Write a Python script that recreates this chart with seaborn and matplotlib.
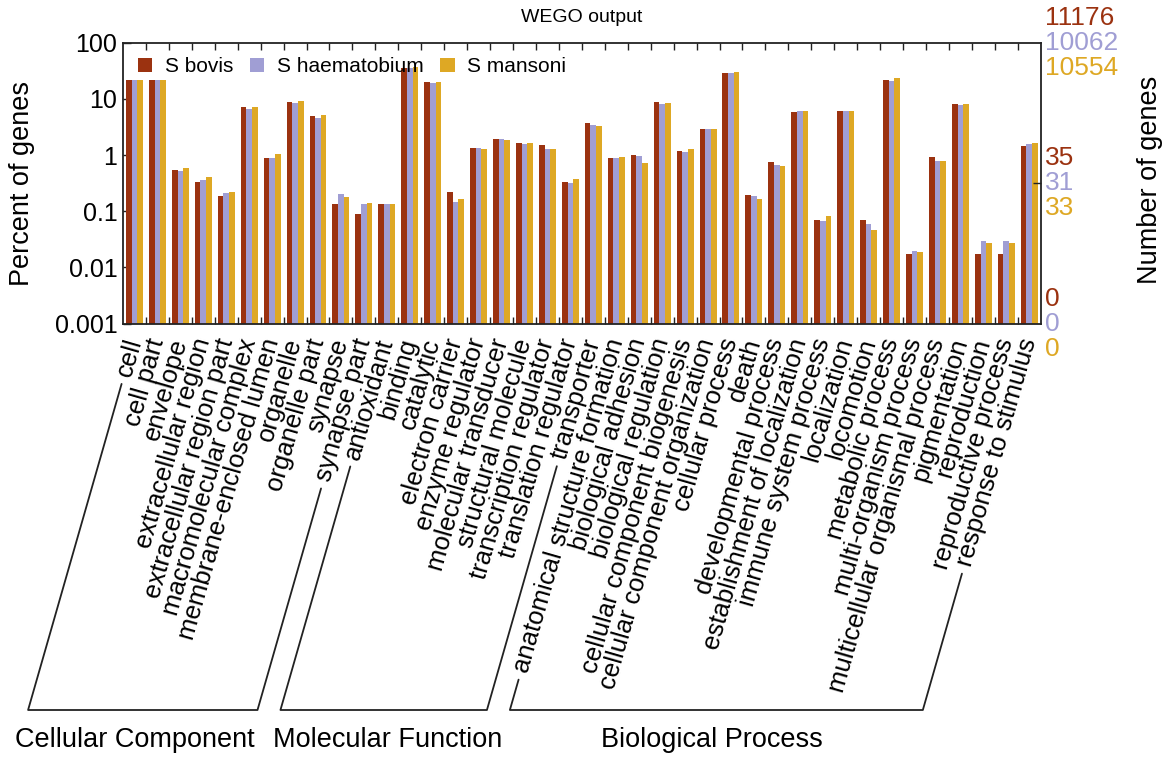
import numpy as np
import pandas as pd
import matplotlib
matplotlib.use("Agg")
import matplotlib.pyplot as plt
import seaborn as sns
from matplotlib import transforms
from matplotlib.lines import Line2D
from matplotlib.patches import Patch
from matplotlib.ticker import FixedLocator, FuncFormatter, NullLocator

sns.set_theme(style="white")
plt.rcParams["font.family"] = ["Liberation Sans", "DejaVu Sans"]
plt.rcParams.update({"text.color": "black", "axes.labelcolor": "black",
                     "xtick.color": "black", "ytick.color": "black"})

# GO level-2 terms, grouped by ontology
terms = [
    "cell", "cell part", "envelope", "extracellular region",
    "extracellular region part", "macromolecular complex",
    "membrane-enclosed lumen", "organelle", "organelle part", "synapse",
    "synapse part",
    "antioxidant", "binding", "catalytic", "electron carrier",
    "enzyme regulator", "molecular transducer", "structural molecule",
    "transcription regulator", "translation regulator", "transporter",
    "anatomical structure formation", "biological adhesion",
    "biological regulation", "cellular component biogenesis",
    "cellular component organization", "cellular process", "death",
    "developmental process", "establishment of localization",
    "immune system process", "localization", "locomotion",
    "metabolic process", "multi-organism process",
    "multicellular organismal process", "pigmentation", "reproduction",
    "reproductive process", "response to stimulus",
]
ontologies = ["Cellular Component", "Molecular Function", "Biological Process"]
ontology_sizes = [11, 10, 19]

species = ["S bovis", "S haematobium", "S mansoni"]
colors = ["#9B3210", "#A09ED4", "#DEA824"]
totals = [11176, 10062, 10554]

# percent of annotated genes per term
bovis = [21.6, 21.6, 0.54, 0.33, 0.186, 7.05, 0.905, 8.9, 4.9, 0.133,
         0.089, 0.135, 35.9, 19.7, 0.221, 1.33, 1.95, 1.67, 1.52, 0.329,
         3.66, 0.905, 1.0, 8.67, 1.19, 2.9, 29.2, 0.195, 0.74, 5.9,
         0.070, 6.14, 0.070, 21.6, 0.0175, 0.93, 8.2, 0.0175, 0.0175, 1.44]
haematobium = [21.3, 21.3, 0.52, 0.36, 0.215, 6.5, 0.905, 8.5, 4.6, 0.204,
               0.137, 0.137, 36.0, 19.2, 0.147, 1.33, 1.92, 1.60, 1.29, 0.325,
               3.5, 0.87, 0.98, 8.18, 1.14, 2.9, 28.5, 0.188, 0.66, 5.98,
               0.068, 6.14, 0.059, 21.2, 0.0195, 0.80, 7.9, 0.0292, 0.0292, 1.58]
mansoni = [21.5, 21.5, 0.60, 0.40, 0.224, 7.05, 1.05, 9.25, 5.1, 0.178,
           0.141, 0.133, 37.0, 20.0, 0.168, 1.26, 1.82, 1.64, 1.26, 0.38,
           3.23, 0.94, 0.72, 8.4, 1.31, 2.9, 29.5, 0.166, 0.64, 5.98,
           0.084, 6.14, 0.046, 23.2, 0.0185, 0.77, 8.0, 0.0278, 0.0278, 1.62]

df = pd.DataFrame({
    "term": terms * 3,
    "species": np.repeat(species, len(terms)),
    "percent": bovis + haematobium + mansoni,
})

W, H = 1173, 760
fig = plt.figure(figsize=(W / 100, H / 100), dpi=100)
ax = fig.add_axes([123 / W, 1 - 323.7 / H, 917.7 / W, 281 / H])
ax.set_yscale("log")

sns.barplot(data=df, x="term", y="percent", hue="species", hue_order=species,
            order=terms, palette=colors, width=0.74, gap=0, linewidth=0,
            saturation=1, errorbar=None, legend=False, ax=ax)

ax.set_ylim(1e-3, 100)
ax.set_xlim(-0.5, len(terms) - 0.5)
ax.set_xlabel("")
ax.set_ylabel("")

# y axis: decades
ax.yaxis.set_major_locator(FixedLocator([1e-3, 1e-2, 1e-1, 1, 10, 100]))
ax.yaxis.set_major_formatter(FuncFormatter(lambda v, p: f"{v:g}"))
ax.yaxis.set_minor_locator(NullLocator())
ax.tick_params(axis="y", which="major", direction="in", length=6, width=1,
               labelsize=18, pad=4, left=True, colors="#222222",
               labelcolor="black")

# x axis: rotated term names, boundary ticks top and bottom
angle = 74
ax.set_xticks(range(len(terms)))
ax.set_xticklabels(terms, rotation=angle, ha="right", va="center",
                   rotation_mode="anchor", fontsize=18.5)
shift = transforms.ScaledTranslation(5 / 100, 0, fig.dpi_scale_trans)
for lab in ax.get_xticklabels():
    lab.set_transform(lab.get_transform() + shift)
ax.set_xticks(np.arange(len(terms) - 1) + 0.5, minor=True)
ax.tick_params(axis="x", which="major", length=0, pad=11)
ax.tick_params(axis="x", which="minor", direction="in", length=5, width=1,
               top=True, bottom=True, colors="#222222")

for s in ax.spines.values():
    s.set_visible(True)
    s.set_color("#222222")
    s.set_linewidth(1.3)

handles = [Patch(facecolor=c, edgecolor="none") for c in colors]
ax.legend(handles, species, ncol=3, loc="upper left", frameon=False,
          fontsize=15, handlelength=0.7, handleheight=0.7,
          handletextpad=0.6, columnspacing=0.8, borderaxespad=0.1,
          borderpad=0.6)

# right axis: gene counts
ax2 = ax.twinx()
ax2.set_yscale("log")
ax2.set_ylim(1e-3, 100)
ax2.yaxis.set_major_locator(FixedLocator([10 ** -0.5]))
ax2.yaxis.set_minor_locator(NullLocator())
ax2.tick_params(axis="y", direction="in", length=6, width=1,
                labelright=False, colors="#222222")
for s in ax2.spines.values():
    s.set_visible(False)

levels = [100, 10 ** -0.5, 1e-3]
ytrans = ax.get_yaxis_transform()
for lev in levels:
    for j, (tot, c) in enumerate(zip(totals, colors)):
        tr = transforms.offset_copy(ytrans, fig=fig, x=0, y=(1 - j) * 25,
                                    units="dots")
        ax.text(1.005, lev, str(int(tot * lev / 100)), transform=tr,
                color=c, fontsize=19, ha="left", va="center", clip_on=False)

fig.text(581.5 / W, 1 - 18 / H, "WEGO output", ha="center", va="center",
         fontsize=14)
fig.text(22 / W, 1 - 183 / H, "Percent of genes", rotation=90,
         ha="center", va="center", fontsize=19.5)
fig.text(1150 / W, 1 - 180 / H, "Number of genes", rotation=90,
         ha="center", va="center", fontsize=19.5)

# ontology brackets following the first and last label of each group
fig.canvas.draw()
renderer = fig.canvas.get_renderer()
theta = np.deg2rad(angle)
d = np.array([np.cos(theta), np.sin(theta)])
labels = ax.get_xticklabels()
y_bottom = 50.0
gap = 8.0
name_shift = [-8, 4, -4]


def bracket_end(i):
    lab = labels[i]
    anchor = np.array(lab.get_transform().transform(lab.get_position()))
    width = renderer.get_text_width_height_descent(
        lab.get_text(), lab.get_fontproperties(), ismath=False)[0]
    start = anchor - (width + gap) * d
    end = start - ((start[1] - y_bottom) / d[1]) * d
    return start, end


inv = fig.transFigure.inverted()
first = 0
for name, n, dx in zip(ontologies, ontology_sizes, name_shift):
    last = first + n - 1
    s0, e0 = bracket_end(first)
    s1, e1 = bracket_end(last)
    pts = inv.transform(np.array([s0, e0, e1, s1]))
    fig.add_artist(Line2D(pts[:, 0], pts[:, 1], transform=fig.transFigure,
                          color="#222222", lw=1.3))
    cx = (e0[0] + e1[0]) / 2 + dx
    fig.text(cx / W, 20 / H, name, ha="center", va="center", fontsize=19.5)
    first = last + 1

fig.savefig("out.png", dpi=100)
